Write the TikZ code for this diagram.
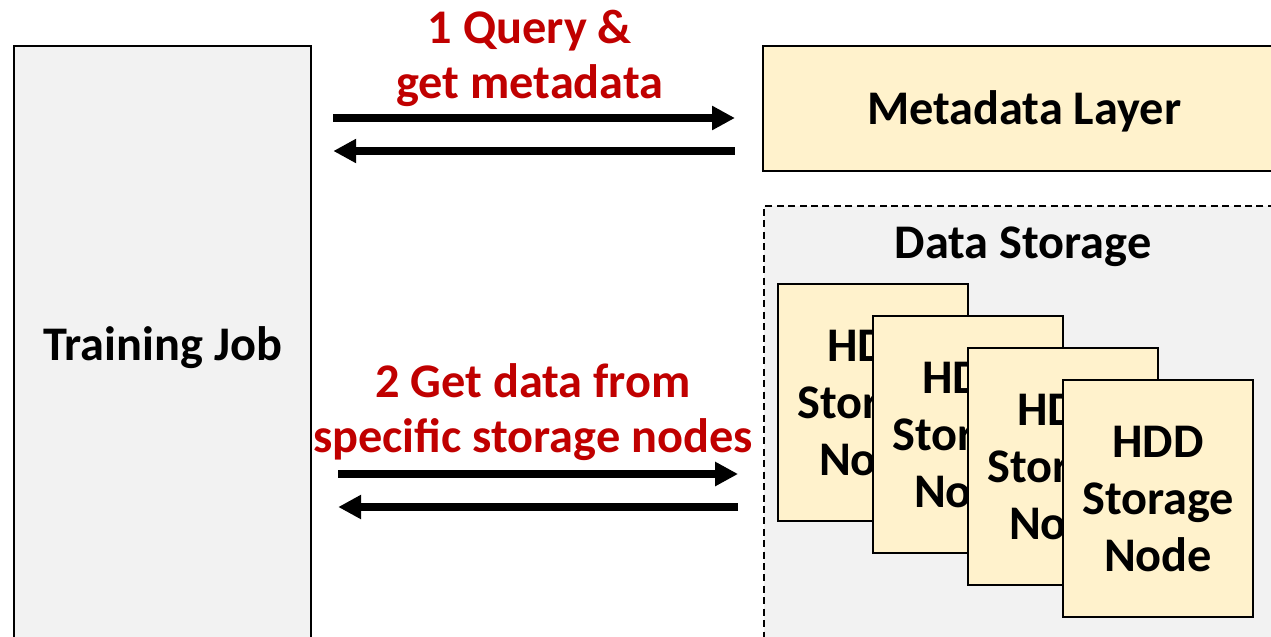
\documentclass[tikz,border=0pt]{standalone}
\usepackage{fontspec}
\setmainfont{Carlito}
\usepackage{xcolor}
\usetikzlibrary{arrows.meta}

\definecolor{boxyellow}{HTML}{FFF2CC}
\definecolor{boxgray}{HTML}{F2F2F2}
\definecolor{labelred}{HTML}{C00000}

\begin{document}
\begin{tikzpicture}[x=0.02cm,y=-0.02cm,
	font=\bfseries\fontsize{27.5}{31.5}\selectfont,
	flow/.style={line width=4.5pt,-{Triangle[length=13pt,width=13pt]}},
	block/.style={draw,line width=1.3pt,anchor=north west,inner sep=0pt},
	steplabel/.style={labelred,align=center,font=\bfseries\fontsize{27.5}{31.4}\selectfont}]
	\useasboundingbox (0,0) rectangle (1271,636);
	\clip (0,0) rectangle (1271,636);
	
	% boxes
	\node[block,fill=boxgray,minimum width=5.94cm,minimum height=11.92cm] (tj) at (13,45) {};
	\node[yshift=-2pt] at (tj.center) {Training Job};
	
	\node[block,fill=boxyellow,minimum width=10.44cm,minimum height=2.5cm] (md) at (762,45) {};
	\node[yshift=-1.5pt] at (md.center) {Metadata Layer};
	
	\node[block,fill=boxgray,line width=1.1pt,dash pattern=on 4pt off 2.5pt,minimum width=10.44cm,minimum height=9.9cm] (ds) at (763,205) {};
	\node (dslabel) at (1023,247) {Data Storage};
	
	\foreach \i in {1,...,4}{
		\node[block,fill=boxyellow,minimum width=3.8cm,minimum height=4.74cm] (hdd\i) at ({777+95*(\i-1)},{283+32*(\i-1)}) {};
		\node[align=center,font=\bfseries\fontsize{27.5}{32.5}\selectfont] at (hdd\i.center) {HDD\\Storage\\Node};
	}
	
	% requests
	\coordinate (q1) at (0,118);
	\coordinate (q2) at (0,151);
	\coordinate (q3) at (0,474);
	\coordinate (q4) at (0,507);
	\draw[flow] ([xshift=12pt]tj.east |- q1) -- ([xshift=-15.4pt]md.west |- q1);
	\draw[flow] ([xshift=-15.4pt]md.west |- q2) -- ([xshift=12pt]tj.east |- q2);
	\draw[flow] ([xshift=14.8pt]tj.east |- q3) -- ([xshift=-14.2pt]ds.west |- q3);
	\draw[flow] ([xshift=-14.2pt]ds.west |- q4) -- ([xshift=14.8pt]tj.east |- q4);
	
	\node[steplabel] (step1) at (530,58) {1 Query \&\\get metadata};
	\node[steplabel] (step2) at (533,412) {2 Get data from\\specific storage nodes};
\end{tikzpicture}
\end{document}
